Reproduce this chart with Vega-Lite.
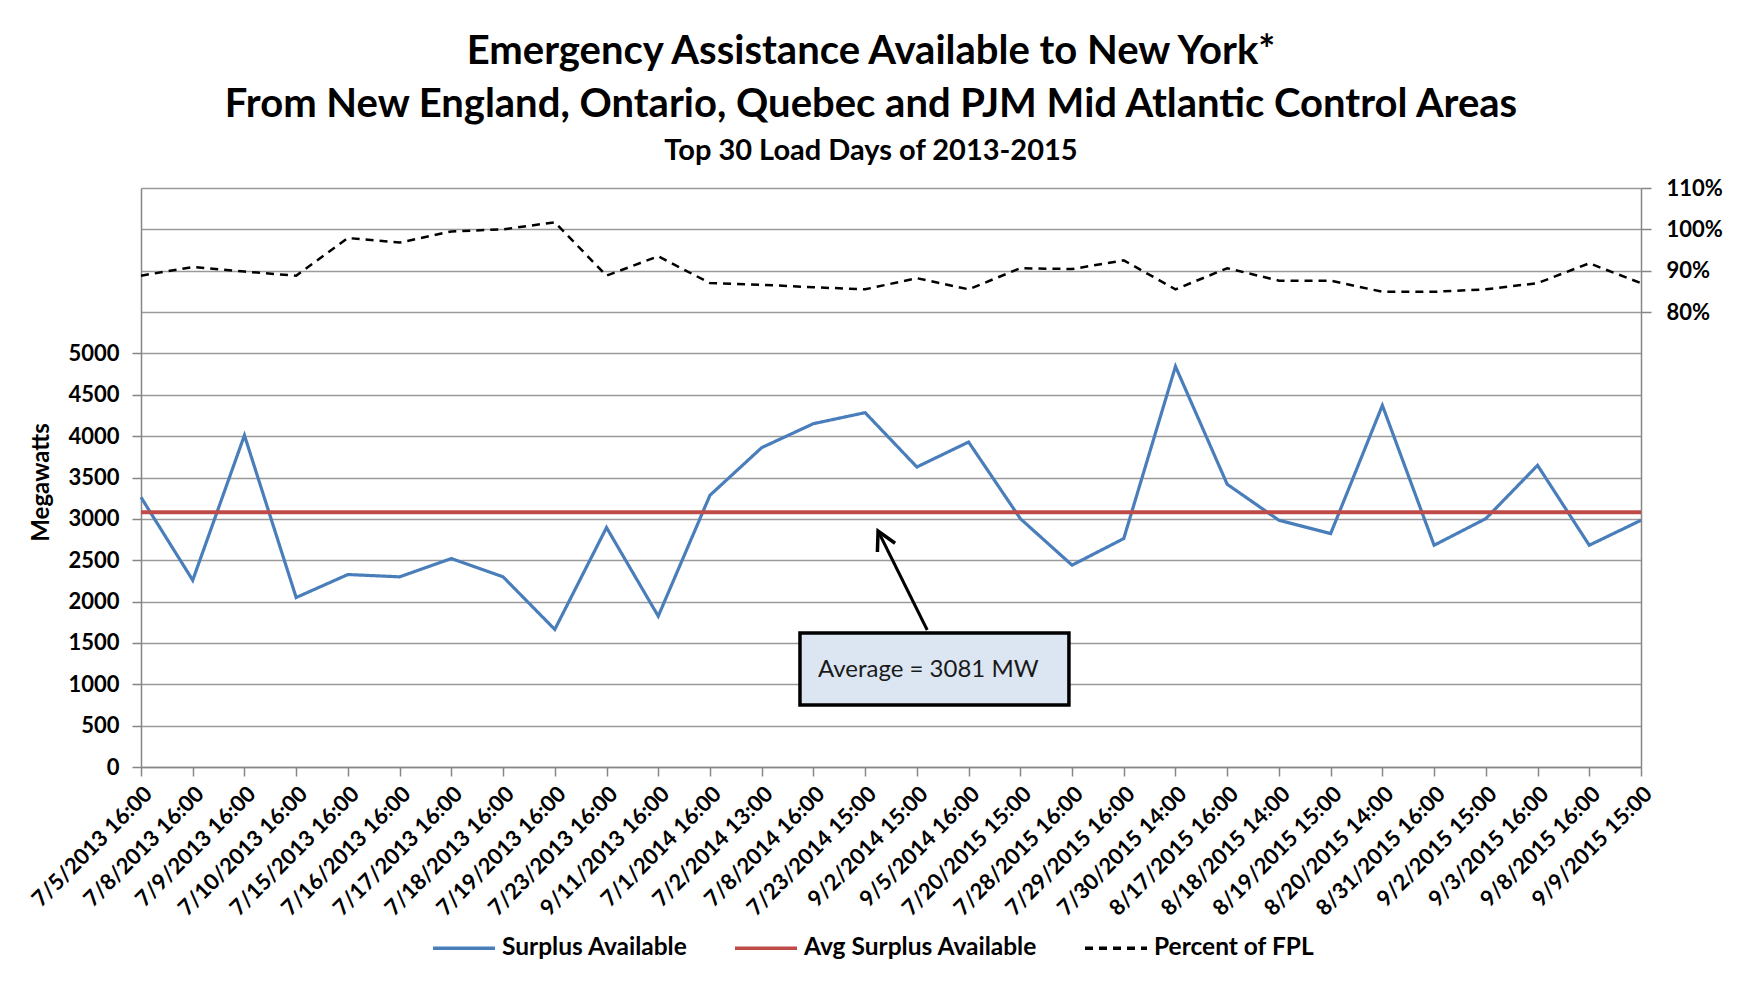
{
  "$schema": "https://vega.github.io/schema/vega-lite/v6.json",
  "autosize": "none",
  "width": 1500,
  "height": 579,
  "padding": {"left": 141, "top": 188, "right": 101, "bottom": 217},
  "background": "white",
  "title": {
    "text": ["Emergency Assistance Available to New York*", "From New England,  Ontario, Quebec and PJM Mid Atlantic Control Areas"],
    "subtitle": "Top 30 Load Days of 2013-2015",
    "font": "Lato",
    "fontSize": 40,
    "fontWeight": "bold",
    "lineHeight": 53,
    "color": "#000000",
    "subtitleFont": "Lato",
    "subtitleFontSize": 29,
    "subtitleFontWeight": "bold",
    "subtitleColor": "#000000",
    "subtitlePadding": 12,
    "anchor": "middle",
    "frame": "group",
    "dx": -20,
    "offset": 11
  },
  "data": {
    "values": [
      {"d": "7/5/2013 16:00", "Surplus Available": 3261, "Avg Surplus Available": 3081, "Percent of FPL": 0.888},
      {"d": "7/8/2013 16:00", "Surplus Available": 2258, "Avg Surplus Available": 3081, "Percent of FPL": 0.909},
      {"d": "7/9/2013 16:00", "Surplus Available": 4010, "Avg Surplus Available": 3081, "Percent of FPL": 0.898},
      {"d": "7/10/2013 16:00", "Surplus Available": 2049, "Avg Surplus Available": 3081, "Percent of FPL": 0.888},
      {"d": "7/15/2013 16:00", "Surplus Available": 2327, "Avg Surplus Available": 3081, "Percent of FPL": 0.979},
      {"d": "7/16/2013 16:00", "Surplus Available": 2299, "Avg Surplus Available": 3081, "Percent of FPL": 0.968},
      {"d": "7/17/2013 16:00", "Surplus Available": 2520, "Avg Surplus Available": 3081, "Percent of FPL": 0.995},
      {"d": "7/18/2013 16:00", "Surplus Available": 2299, "Avg Surplus Available": 3081, "Percent of FPL": 1.0},
      {"d": "7/19/2013 16:00", "Surplus Available": 1663, "Avg Surplus Available": 3081, "Percent of FPL": 1.017},
      {"d": "7/23/2013 16:00", "Surplus Available": 2895, "Avg Surplus Available": 3081, "Percent of FPL": 0.888},
      {"d": "9/11/2013 16:00", "Surplus Available": 1824, "Avg Surplus Available": 3081, "Percent of FPL": 0.935},
      {"d": "7/1/2014 16:00", "Surplus Available": 3285, "Avg Surplus Available": 3081, "Percent of FPL": 0.870},
      {"d": "7/2/2014 13:00", "Surplus Available": 3861, "Avg Surplus Available": 3081, "Percent of FPL": 0.866},
      {"d": "7/8/2014 16:00", "Surplus Available": 4151, "Avg Surplus Available": 3081, "Percent of FPL": 0.860},
      {"d": "7/23/2014 15:00", "Surplus Available": 4284, "Avg Surplus Available": 3081, "Percent of FPL": 0.855},
      {"d": "9/2/2014 15:00", "Surplus Available": 3627, "Avg Surplus Available": 3081, "Percent of FPL": 0.882},
      {"d": "9/5/2014 16:00", "Surplus Available": 3929, "Avg Surplus Available": 3081, "Percent of FPL": 0.855},
      {"d": "7/20/2015 15:00", "Surplus Available": 3003, "Avg Surplus Available": 3081, "Percent of FPL": 0.906},
      {"d": "7/28/2015 16:00", "Surplus Available": 2440, "Avg Surplus Available": 3081, "Percent of FPL": 0.904},
      {"d": "7/29/2015 16:00", "Surplus Available": 2762, "Avg Surplus Available": 3081, "Percent of FPL": 0.925},
      {"d": "7/30/2015 14:00", "Surplus Available": 4843, "Avg Surplus Available": 3081, "Percent of FPL": 0.855},
      {"d": "8/17/2015 16:00", "Surplus Available": 3418, "Avg Surplus Available": 3081, "Percent of FPL": 0.906},
      {"d": "8/18/2015 14:00", "Surplus Available": 2983, "Avg Surplus Available": 3081, "Percent of FPL": 0.876},
      {"d": "8/19/2015 15:00", "Surplus Available": 2822, "Avg Surplus Available": 3081, "Percent of FPL": 0.876},
      {"d": "8/20/2015 14:00", "Surplus Available": 4372, "Avg Surplus Available": 3081, "Percent of FPL": 0.849},
      {"d": "8/31/2015 16:00", "Surplus Available": 2681, "Avg Surplus Available": 3081, "Percent of FPL": 0.849},
      {"d": "9/2/2015 15:00", "Surplus Available": 3003, "Avg Surplus Available": 3081, "Percent of FPL": 0.855},
      {"d": "9/3/2015 16:00", "Surplus Available": 3647, "Avg Surplus Available": 3081, "Percent of FPL": 0.870},
      {"d": "9/8/2015 16:00", "Surplus Available": 2681, "Avg Surplus Available": 3081, "Percent of FPL": 0.918},
      {"d": "9/9/2015 15:00", "Surplus Available": 2983, "Avg Surplus Available": 3081, "Percent of FPL": 0.870}
    ]
  },
  "layer": [
    {
      "encoding": {
        "x": {
          "field": "d", "type": "ordinal", "sort": null,
          "scale": {"type": "point", "padding": 0},
          "axis": {
            "title": null, "labelAngle": -45, "labelFont": "Lato", "labelFontSize": 22, "labelFontWeight": "bold",
            "labelColor": "#000000", "labelOverlap": false, "labelBound": false, "labelPadding": 7,
            "tickSize": 9, "tickColor": "#868686", "tickWidth": 1.5, "domainColor": "#868686", "domainWidth": 1.5, "grid": false
          }
        },
        "y": {
          "field": "value", "type": "quantitative",
          "scale": {"domain": [0, 7000], "nice": false},
          "axis": {
            "title": "Megawatts", "titleFont": "Lato", "titleFontSize": 24, "titleFontWeight": "bold", "titleColor": "#000000",
            "titleX": -100, "titleY": 294, "titleAngle": -90, "titleAlign": "center", "titleBaseline": "middle",
            "values": [0, 500, 1000, 1500, 2000, 2500, 3000, 3500, 4000, 4500, 5000], "format": "d",
            "labelFont": "Lato", "labelFontSize": 22, "labelFontWeight": "bold", "labelColor": "#000000", "labelPadding": 13,
            "tickSize": 9, "tickColor": "#868686", "tickWidth": 1.5, "domainColor": "#868686", "domainWidth": 1.5,
            "grid": true, "gridColor": "#9a9a9a", "gridWidth": 1.6
          }
        },
        "color": {"field": "series", "type": "nominal",
          "scale": {"domain": ["Surplus Available", "Avg Surplus Available", "Percent of FPL"], "range": ["#4a7ebb", "#be4b48", "#000000"]}},
        "strokeDash": {"field": "series", "type": "nominal",
          "scale": {"domain": ["Surplus Available", "Avg Surplus Available", "Percent of FPL"], "range": [[1, 0], [1, 0], [8, 6]]}}
      },
      "layer": [
        {
          "transform": [{"fold": ["Surplus Available"], "as": ["series", "value"]}],
          "mark": {"type": "line", "strokeWidth": 3.2, "strokeJoin": "miter"}
        },
        {
          "transform": [{"fold": ["Avg Surplus Available"], "as": ["series", "value"]}],
          "mark": {"type": "line", "strokeWidth": 4}
        }
      ]
    },
    {
      "transform": [{"fold": ["Percent of FPL"], "as": ["series", "value"]}],
      "mark": {"type": "line", "strokeWidth": 2.5},
      "encoding": {
        "x": {"field": "d", "type": "ordinal", "sort": null, "scale": {"type": "point", "padding": 0}, "axis": null},
        "y": {
          "field": "value", "type": "quantitative",
          "scale": {"domain": [-0.3, 1.1], "nice": false, "zero": false},
          "axis": {
            "orient": "right", "title": null, "values": [0.8, 0.9, 1.0, 1.1], "format": ".0%",
            "labelFont": "Lato", "labelFontSize": 22, "labelFontWeight": "bold", "labelColor": "#000000", "labelPadding": 15,
            "tickSize": 10, "tickColor": "#868686", "tickWidth": 1.5, "domainColor": "#868686", "domainWidth": 1.5,
            "grid": true, "gridColor": "#9a9a9a", "gridWidth": 1.6
          }
        },
        "color": {"field": "series", "type": "nominal",
          "scale": {"domain": ["Surplus Available", "Avg Surplus Available", "Percent of FPL"], "range": ["#4a7ebb", "#be4b48", "#000000"]}},
        "strokeDash": {"field": "series", "type": "nominal",
          "scale": {"domain": ["Surplus Available", "Avg Surplus Available", "Percent of FPL"], "range": [[1, 0], [1, 0], [8, 6]]}}
      }
    },
    {
      "data": {"values": [{"label": "Average = 3081 MW"}]},
      "layer": [
        {
          "mark": {"type": "rect", "fill": "#dce6f2", "stroke": "#000000", "strokeWidth": 3.5},
          "encoding": {
            "x": {"datum": 12.74, "type": "quantitative", "scale": {"domain": [0, 29], "nice": false, "zero": false}, "axis": null},
            "x2": {"datum": 17.94},
            "y": {"datum": 1620, "type": "quantitative", "scale": {"domain": [0, 7000], "nice": false}, "axis": null},
            "y2": {"datum": 750}
          }
        },
        {
          "mark": {"type": "text", "font": "Lato", "fontSize": 24, "color": "#1a1a1a", "align": "center", "baseline": "middle"},
          "encoding": {
            "x": {"datum": 15.22, "type": "quantitative"},
            "y": {"datum": 1173, "type": "quantitative"},
            "text": {"field": "label"}
          }
        },
        {
          "mark": {"type": "rule", "color": "#000000", "strokeWidth": 3},
          "encoding": {
            "x": {"datum": 15.20, "type": "quantitative"},
            "y": {"datum": 1656, "type": "quantitative"},
            "x2": {"datum": 14.25},
            "y2": {"datum": 2853}
          }
        },
        {
          "mark": {"type": "point", "shape": "M-0.47,0.88L0,0L0.47,0.88", "filled": false, "stroke": "#000000", "strokeWidth": 3.5, "opacity": 1, "size": 1764, "angle": 333.7},
          "encoding": {
            "x": {"datum": 14.25, "type": "quantitative"},
            "y": {"datum": 2853, "type": "quantitative"}
          }
        }
      ]
    }
  ],
  "resolve": {"scale": {"x": "independent", "y": "independent"}},
  "config": {
    "view": {"stroke": null},
    "legend": {
      "orient": "none", "legendX": 290, "legendY": 727, "direction": "horizontal", "title": null,
      "symbolType": "stroke", "symbolSize": 3844, "symbolStrokeWidth": 3.5,
      "labelFont": "Lato", "labelFontSize": 24.5, "labelFontWeight": "bold", "labelColor": "#000000",
      "columnPadding": 40, "labelOffset": 5, "padding": 0, "labelLimit": 400
    }
  }
}
